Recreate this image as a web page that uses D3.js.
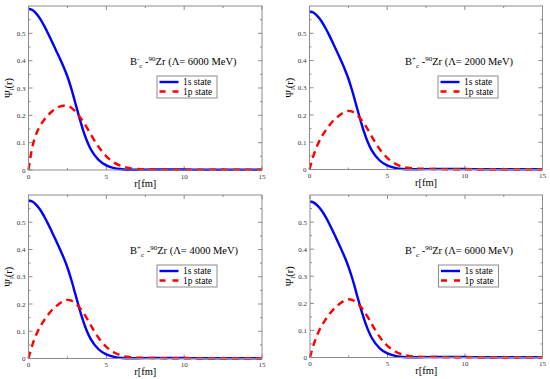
<!DOCTYPE html>
<html><head><meta charset="utf-8">
<script src="https://cdn.jsdelivr.net/npm/d3@7"></script>
<style>body{margin:0;background:#fff}svg{display:block}</style>
</head><body>
<svg id="c" width="550" height="379" font-family="Liberation Serif"></svg>
<script>
// ---- data ----
const rGrid = [0,0.25,0.5,0.75,1,1.25,1.5,1.75,2,2.25,2.5,2.75,3,3.25,3.5,3.75,4,4.5,5,5.5,6,6.5,7,8,9,10,11,12,13,14,15];
const s1_A = [0.59,0.585,0.572,0.553,0.528,0.5,0.47,0.44,0.41,0.378,0.342,0.298,0.247,0.195,0.147,0.107,0.076,0.037,0.017,0.007,0.003,0.001,0.001,0.002,0.002,0.002,0.001,0.001,0.001,0.001,0.001];
const p1_A = [0,0.085,0.132,0.162,0.183,0.2,0.214,0.225,0.232,0.235,0.234,0.228,0.215,0.198,0.178,0.155,0.13,0.085,0.05,0.027,0.014,0.007,0.004,0.002,0.001,0.001,0.001,0.001,0.001,0.001,0.001];
const s1_B = [0.58,0.576,0.564,0.546,0.522,0.495,0.465,0.435,0.404,0.371,0.334,0.289,0.238,0.187,0.14,0.101,0.071,0.034,0.015,0.006,0.002,0.001,0.001,0.002,0.002,0.002,0.001,0.001,0.001,0.001,0.001];
const p1_B = [0,0.05,0.088,0.117,0.14,0.16,0.177,0.19,0.202,0.211,0.215,0.212,0.203,0.189,0.17,0.147,0.122,0.076,0.043,0.022,0.01,0.005,0.003,0.002,0.001,0.001,0.001,0.001,0.001,0.001,0.001];
const s1_C = [0.58,0.576,0.564,0.546,0.522,0.495,0.465,0.435,0.404,0.371,0.334,0.289,0.238,0.187,0.14,0.101,0.071,0.034,0.015,0.006,0.002,0.001,0.001,0.002,0.002,0.002,0.001,0.001,0.001,0.001,0.001];
const p1_C = [0,0.05,0.088,0.117,0.14,0.16,0.177,0.19,0.202,0.211,0.215,0.212,0.203,0.189,0.17,0.147,0.122,0.076,0.043,0.022,0.01,0.005,0.003,0.002,0.001,0.001,0.001,0.001,0.001,0.001,0.001];
const s1_D = [0.576,0.572,0.56,0.543,0.52,0.493,0.463,0.433,0.402,0.369,0.332,0.288,0.237,0.186,0.14,0.101,0.071,0.034,0.015,0.006,0.002,0.001,0.001,0.002,0.002,0.002,0.001,0.001,0.001,0.001,0.001];
const p1_D = [0,0.05,0.088,0.117,0.14,0.16,0.177,0.19,0.202,0.211,0.215,0.212,0.203,0.189,0.17,0.147,0.122,0.076,0.043,0.022,0.01,0.005,0.003,0.002,0.001,0.001,0.001,0.001,0.001,0.001,0.001];
const signs = ["-","+","+","+"];
const lambdas = ["6000","2000","4000","6000"];
const legendLabels = ["1s state","1p state"];
const xTicks = [0,5,10,15];
const xMinor = [2.5,7.5,12.5];
const yTicks = [0,0.1,0.2,0.3,0.4,0.5];
const yTickLabels = ["0","0.1","0.2","0.3","0.4","0.5"];
const yMinor = [0.05,0.15,0.25,0.35,0.45,0.55];
const xTitle = "r[fm]";

// ---- layout ----
const panels = [
  {x0:28.5, y0:6,   x1:262,   y1:170,   ax:101.5, s:s1_A, p:p1_A},
  {x0:309.5,y0:6,   x1:542.5, y1:169.5, ax:95.5,  s:s1_B, p:p1_B},
  {x0:28.5, y0:195, x1:262,   y1:358.5, ax:101.5, s:s1_C, p:p1_C},
  {x0:310,  y0:195, x1:542.5, y1:357.5, ax:95,    s:s1_D, p:p1_D}
];
const svg = d3.select("#c");
const frameCol = "#8c8c8c";

panels.forEach((P,i)=>{
  const x = d3.scaleLinear().domain([0,15]).range([P.x0,P.x1]);
  const y = d3.scaleLinear().domain([0,0.6]).range([P.y1,P.y0]);
  const g = svg.append("g");
  const tk = g.append("g").attr("stroke",frameCol).attr("stroke-width",1);
  xTicks.concat(xMinor).forEach(v=>{
    const L = xMinor.includes(v)?2:4;
    tk.append("line").attr("x1",x(v)).attr("x2",x(v)).attr("y1",P.y1).attr("y2",P.y1-L);
    tk.append("line").attr("x1",x(v)).attr("x2",x(v)).attr("y1",P.y0).attr("y2",P.y0+L);
  });
  yTicks.concat(yMinor).forEach(v=>{
    const L = yMinor.includes(v)?2:4;
    tk.append("line").attr("y1",y(v)).attr("y2",y(v)).attr("x1",P.x0).attr("x2",P.x0+L);
    tk.append("line").attr("y1",y(v)).attr("y2",y(v)).attr("x1",P.x1).attr("x2",P.x1-L);
  });
  xTicks.forEach(v=>{
    g.append("text").attr("x",x(v)).attr("y",P.y1+8.5).attr("text-anchor","middle")
      .attr("font-size",7).attr("fill","#333").text(v);
  });
  yTicks.forEach((v,k)=>{
    g.append("text").attr("x",P.x0-3).attr("y",y(v)+2.5).attr("text-anchor","end")
      .attr("font-size",7).attr("fill","#333").text(yTickLabels[k]);
  });
  g.append("text").attr("x",(P.x0+P.x1)/2).attr("y",P.y1+16.5).attr("text-anchor","middle")
    .attr("font-size",10.5).text(xTitle);
  const yt = g.append("text").attr("transform",`translate(${P.x0-17},${(P.y0+P.y1)/2}) rotate(-90)`)
    .attr("text-anchor","middle").attr("font-size",10.5);
  yt.append("tspan").text("Ψ");
  yt.append("tspan").attr("font-size",7).attr("dy",2).text("l");
  yt.append("tspan").attr("dy",-2).text("(r)");
  const line = d3.line().x((d,k)=>x(rGrid[k])).y(d=>y(d)).curve(d3.curveMonotoneX);
  g.append("path").attr("d",line(P.s)).attr("fill","none").attr("stroke","#0000ff").attr("stroke-width",2.4);
  g.append("path").attr("d",line(P.p)).attr("fill","none").attr("stroke","#ff0000").attr("stroke-width",2.4)
    .attr("stroke-dasharray","7,5");
  g.append("rect").attr("x",P.x0).attr("y",P.y0).attr("width",P.x1-P.x0).attr("height",P.y1-P.y0)
    .attr("fill","none").attr("stroke",frameCol).attr("stroke-width",1);
  const at = g.append("text").attr("x",P.x0+P.ax).attr("y",P.y0+59).attr("font-size",10.5);
  at.append("tspan").text("B");
  at.append("tspan").attr("font-size",7).attr("dy",-4).text(signs[i]);
  at.append("tspan").attr("font-size",7).attr("dy",7).text("c");
  at.append("tspan").attr("dy",-3).text(" -");
  at.append("tspan").attr("font-size",7).attr("dy",-4).text("90");
  at.append("tspan").attr("dy",4).text(`Zr (Λ= ${lambdas[i]} MeV)`);
  const lx = P.x0+128.5, ly = P.y0+70;
  g.append("rect").attr("x",lx).attr("y",ly).attr("width",60).attr("height",22)
    .attr("fill","#fff").attr("stroke",frameCol).attr("stroke-width",1);
  g.append("line").attr("x1",lx+2.5).attr("x2",lx+21.5).attr("y1",ly+6).attr("y2",ly+6)
    .attr("stroke","#0000ff").attr("stroke-width",2.4);
  g.append("line").attr("x1",lx+2.5).attr("x2",lx+21.5).attr("y1",ly+15.5).attr("y2",ly+15.5)
    .attr("stroke","#ff0000").attr("stroke-width",2.4).attr("stroke-dasharray","6,7");
  legendLabels.forEach((t,k)=>{
    g.append("text").attr("x",lx+26).attr("y",ly+9+k*9.5).attr("font-size",9.5).text(t);
  });
});
</script>
</body></html>
